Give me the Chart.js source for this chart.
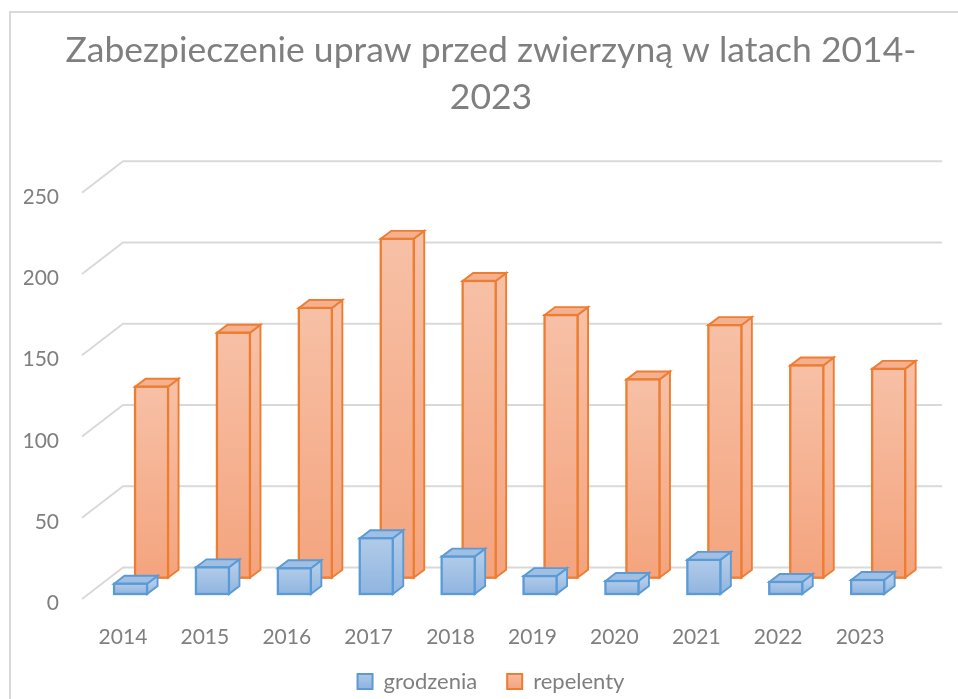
<!DOCTYPE html>
<html lang="pl">
<head>
<meta charset="utf-8">
<title>Zabezpieczenie upraw</title>
<style>
html,body{margin:0;padding:0;background:#fff;overflow:hidden}
#wrap{position:relative;width:958px;height:699px}
</style>
<script src="https://cdn.jsdelivr.net/npm/chart.js@4"></script>
</head>
<body>
<div id="wrap"><canvas id="c" width="958" height="699"></canvas></div>
<script>
const categories = ['2014','2015','2016','2017','2018','2019','2020','2021','2022','2023'];
const grodzenia = [6.3,16.4,15.8,34.3,23,11,8,21,7.4,8.6];
const repelenty = [117.5,150.7,166,208.5,182.6,161.6,122,155.4,130.6,128.5];
const titleLines = ['Zabezpieczenie upraw przed zwierzyną w latach 2014-','2023'];

const TEXT = '#7f7f7f', GRID = '#d9d9d9', FONT = 'Lato, sans-serif';
const depth3d = {x:41, y:-31.5};      // back wall offset
const barDepth = {x:10.5, y:-8};      // box depth
const looks = [
  {shift:[7.6,-5],   line:'#5b9bd5', hi:'#b1cbe9', lo:'#90b5e0', topFace:'#9fbfe4'},
  {shift:[28.6,-21.3], line:'#ed7d31', hi:'#f7c0a6', lo:'#f4a47e', topFace:'#f4b08f'}
];

function vGrad(ctx, y0, y1, hi, lo){
  const g = ctx.createLinearGradient(0,y0,0,y1);
  g.addColorStop(0,hi); g.addColorStop(1,lo);
  return g;
}
function barFill(i){
  return (c) => {
    const chart = c.chart, s = chart.scales.y;
    if (!s || c.raw === undefined) return looks[i].lo;
    return vGrad(chart.ctx, s.getPixelForValue(c.raw), s.getPixelForValue(0), looks[i].hi, looks[i].lo);
  };
}

const box3d = {
  id:'box3d',
  beforeDraw(chart){
    const ctx = chart.ctx;
    ctx.save();
    ctx.strokeStyle = GRID; ctx.lineWidth = 2;
    ctx.beginPath();
    ctx.moveTo(10,chart.height); ctx.lineTo(10,12); ctx.lineTo(chart.width,12);
    ctx.stroke();
    ctx.restore();
  },
  beforeDatasetsDraw(chart){
    const ctx = chart.ctx, s = chart.scales.y, a = chart.chartArea;
    ctx.save();
    ctx.strokeStyle = GRID; ctx.lineWidth = 2;
    s.ticks.forEach(t => {
      const y = s.getPixelForValue(t.value);
      ctx.beginPath();
      ctx.moveTo(a.left,y);
      ctx.lineTo(a.left+depth3d.x,y+depth3d.y);
      ctx.lineTo(a.right+depth3d.x,y+depth3d.y);
      ctx.stroke();
    });
    ctx.restore();
  },
  beforeDatasetDraw(chart,args){
    const ctx = chart.ctx, L = looks[args.index], dx = barDepth.x, dy = barDepth.y;
    ctx.save();
    ctx.translate(L.shift[0],L.shift[1]);
    ctx.lineWidth = 1.9; ctx.lineJoin = 'miter';
    args.meta.data.forEach(el => {
      const l = el.x-el.width/2, r = el.x+el.width/2, t = el.y, b = el.base;
      ctx.strokeStyle = L.line;
      ctx.fillStyle = vGrad(ctx,t,b,L.hi,L.lo);
      ctx.beginPath();
      ctx.moveTo(r,t); ctx.lineTo(r+dx,t+dy); ctx.lineTo(r+dx,b+dy); ctx.lineTo(r,b); ctx.closePath();
      ctx.fill(); ctx.stroke();
      ctx.fillStyle = L.topFace;
      ctx.beginPath();
      ctx.moveTo(l,t); ctx.lineTo(r,t); ctx.lineTo(r+dx,t+dy); ctx.lineTo(l+dx,t+dy); ctx.closePath();
      ctx.fill(); ctx.stroke();
    });
  },
  afterDatasetDraw(chart,args){
    const ctx = chart.ctx, L = looks[args.index];
    ctx.lineWidth = 2.3; ctx.strokeStyle = L.line;
    args.meta.data.forEach(el => {
      ctx.strokeRect(el.x-el.width/2, el.y, el.width, el.base-el.y);
    });
    ctx.restore();
  }
};

new Chart(document.getElementById('c'),{
  type:'bar',
  data:{
    labels:categories,
    datasets:[
      {label:'grodzenia',data:grodzenia,backgroundColor:barFill(0),borderWidth:0,clip:false,grouped:false,barThickness:33},
      {label:'repelenty',data:repelenty,backgroundColor:barFill(1),borderWidth:0,clip:false,grouped:false,barThickness:33}
    ]
  },
  plugins:[box3d],
  options:{
    responsive:false,
    animation:false,
    layout:{padding:{left:24,right:0,top:0,bottom:-3.5}},
    plugins:{
      tooltip:{enabled:false},
      title:{
        display:true,
        text:titleLines,
        color:TEXT,
        font:{family:FONT,size:35.5,weight:'normal',lineHeight:1.32},
        padding:{top:27,bottom:72}
      },
      legend:{
        position:'bottom',
        labels:{
          color:TEXT,
          font:{family:FONT,size:22},
          boxWidth:15,boxHeight:15,padding:30,
          generateLabels(chart){
            return chart.data.datasets.map((d,i)=>({
              text:d.label,
              datasetIndex:i,
              hidden:false,
              fontColor:TEXT,
              lineWidth:2,
              strokeStyle:looks[i].line,
              fillStyle:vGrad(chart.ctx,672,688,looks[i].hi,looks[i].lo)
            }));
          }
        }
      }
    },
    scales:{
      x:{
        offset:true,
        grid:{display:false,drawTicks:false},
        border:{display:false},
        ticks:{color:TEXT,font:{family:FONT,size:21},mirror:true,padding:-50.6,maxRotation:0,autoSkip:false},
        afterFit(s){s.height=41.5;}
      },
      y:{
        min:0,max:250,
        grid:{display:false,drawTicks:false},
        border:{display:false},
        ticks:{color:TEXT,font:{family:FONT,size:21},padding:23,stepSize:50,labelOffset:4.5},
        afterFit(s){s.width=58;}
      },
      rightGap:{
        position:'right',
        display:true,
        grid:{display:false,drawTicks:false},
        border:{display:false},
        ticks:{display:false},
        afterFit(s){s.width=57;}
      }
    }
  }
});
</script>
</body>
</html>
